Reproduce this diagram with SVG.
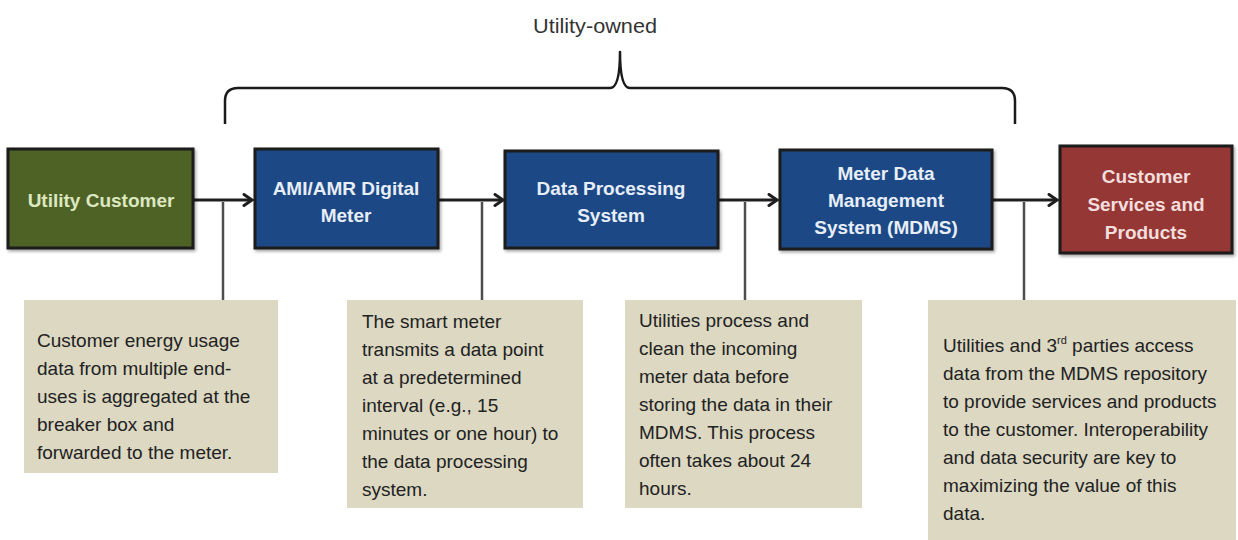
<svg xmlns="http://www.w3.org/2000/svg" width="1238" height="540" viewBox="0 0 1238 540">
  <defs>
    <marker id="arrow" viewBox="0 0 12 14" refX="10" refY="7" markerWidth="12" markerHeight="14" markerUnits="userSpaceOnUse" orient="auto">
      <path d="M2,1.5 L10,7 L2,12.5" fill="none" stroke="#1f1f1f" stroke-width="3" stroke-linecap="round" stroke-linejoin="miter"/>
    </marker>
    <filter id="shadow" x="-10%" y="-10%" width="125%" height="130%">
      <feDropShadow dx="1.5" dy="2" stdDeviation="1.5" flood-color="#000" flood-opacity="0.35"/>
    </filter>
  </defs>
  <style>
    .node { stroke: #1a1a1a; stroke-width: 3; filter: url(#shadow); }
    .green { fill: #4f6228; }
    .blue { fill: #1f4a86; }
    .red { fill: #953735; }
    .ntext { font-family: "Liberation Sans", Arial, sans-serif; font-size: 19px; font-weight: bold; text-anchor: middle; }
    .callout { fill: #dcd8c2; }
    .ctext { font-family: "Liberation Sans", Arial, sans-serif; font-size: 19px; fill: #222222; }
    .flow { stroke: #1f1f1f; stroke-width: 3; fill: none; }
    .lead { stroke: #4d4d4d; stroke-width: 2.5; fill: none; }
    .brace { stroke: #1a1a1a; stroke-width: 2.5; fill: none; stroke-linejoin: round; }
    .title { font-family: "Liberation Sans", Arial, sans-serif; font-size: 20px; fill: #333333; text-anchor: middle; }
  </style>
  <rect width="1238" height="540" fill="#ffffff"/>

  <g id="utility-owned">
    <text class="title" x="595" y="33" textLength="124" lengthAdjust="spacingAndGlyphs">Utility-owned</text>
    <path class="brace" d="M225,124 L225,101 Q225,88 238,88 L610,88 Q620,88 620,52 Q620,88 630,88 L1002,88 Q1015,88 1015,101 L1015,124"/>
  </g>

  <g id="connectors">
    <line class="flow" x1="193" y1="200" x2="252" y2="200" marker-end="url(#arrow)"/>
    <line class="flow" x1="438" y1="200" x2="503" y2="200" marker-end="url(#arrow)"/>
    <line class="flow" x1="718" y1="200" x2="777" y2="200" marker-end="url(#arrow)"/>
    <line class="flow" x1="992" y1="200" x2="1057" y2="200" marker-end="url(#arrow)"/>
    <line class="lead" x1="223" y1="202" x2="223" y2="300"/>
    <line class="lead" x1="482" y1="202" x2="482" y2="300"/>
    <line class="lead" x1="745" y1="202" x2="745" y2="300"/>
    <line class="lead" x1="1024" y1="202" x2="1024" y2="300"/>
  </g>

  <g id="node-utility-customer">
    <rect class="node green" x="8" y="149" width="185" height="99"/>
    <text class="ntext" x="101" y="207" fill="#dbe8c0">Utility Customer</text>
  </g>

  <g id="node-ami-meter">
    <rect class="node blue" x="255" y="149" width="183" height="99"/>
    <text class="ntext" x="346" y="195" fill="#e8eef8">AMI/AMR Digital</text>
    <text class="ntext" x="346" y="222" fill="#e8eef8">Meter</text>
  </g>

  <g id="node-data-processing">
    <rect class="node blue" x="505" y="151" width="213" height="97"/>
    <text class="ntext" x="611" y="195" fill="#e8eef8">Data Processing</text>
    <text class="ntext" x="611" y="222" fill="#e8eef8">System</text>
  </g>

  <g id="node-mdms">
    <rect class="node blue" x="780" y="150" width="212" height="99"/>
    <text class="ntext" x="886" y="180" fill="#e8eef8">Meter Data</text>
    <text class="ntext" x="886" y="207" fill="#e8eef8">Management</text>
    <text class="ntext" x="886" y="234" fill="#e8eef8">System (MDMS)</text>
  </g>

  <g id="node-customer-services">
    <rect class="node red" x="1060" y="146" width="172" height="107"/>
    <text class="ntext" x="1146" y="183" fill="#f4dedd">Customer</text>
    <text class="ntext" x="1146" y="211" fill="#f4dedd">Services and</text>
    <text class="ntext" x="1146" y="239" fill="#f4dedd">Products</text>
  </g>

  <g id="note-customer">
    <rect class="callout" x="24" y="300" width="254" height="173"/>
    <text class="ctext" x="37" y="347">Customer energy usage</text>
    <text class="ctext" x="37" y="375">data from multiple end-</text>
    <text class="ctext" x="37" y="403">uses is aggregated at the</text>
    <text class="ctext" x="37" y="431">breaker box and</text>
    <text class="ctext" x="37" y="459">forwarded to the meter.</text>
  </g>

  <g id="note-meter">
    <rect class="callout" x="347" y="300" width="236" height="208"/>
    <text class="ctext" x="362" y="328">The smart meter</text>
    <text class="ctext" x="362" y="356">transmits a data point</text>
    <text class="ctext" x="362" y="384">at a predetermined</text>
    <text class="ctext" x="362" y="412">interval (e.g., 15</text>
    <text class="ctext" x="362" y="440">minutes or one hour) to</text>
    <text class="ctext" x="362" y="468">the data processing</text>
    <text class="ctext" x="362" y="496">system.</text>
  </g>

  <g id="note-processing">
    <rect class="callout" x="625" y="300" width="237" height="208"/>
    <text class="ctext" x="639" y="327">Utilities process and</text>
    <text class="ctext" x="639" y="355">clean the incoming</text>
    <text class="ctext" x="639" y="383">meter data before</text>
    <text class="ctext" x="639" y="411">storing the data in their</text>
    <text class="ctext" x="639" y="439">MDMS. This process</text>
    <text class="ctext" x="639" y="467">often takes about 24</text>
    <text class="ctext" x="639" y="495">hours.</text>
  </g>

  <g id="note-mdms">
    <rect class="callout" x="928" y="300" width="308" height="240"/>
    <text class="ctext" x="943" y="352">Utilities and 3<tspan font-size="11" dy="-8">rd</tspan><tspan dy="8"> parties access</tspan></text>
    <text class="ctext" x="943" y="380">data from the MDMS repository</text>
    <text class="ctext" x="943" y="408">to provide services and products</text>
    <text class="ctext" x="943" y="436">to the customer. Interoperability</text>
    <text class="ctext" x="943" y="464">and data security are key to</text>
    <text class="ctext" x="943" y="492">maximizing the value of this</text>
    <text class="ctext" x="943" y="520">data.</text>
  </g>
</svg>
